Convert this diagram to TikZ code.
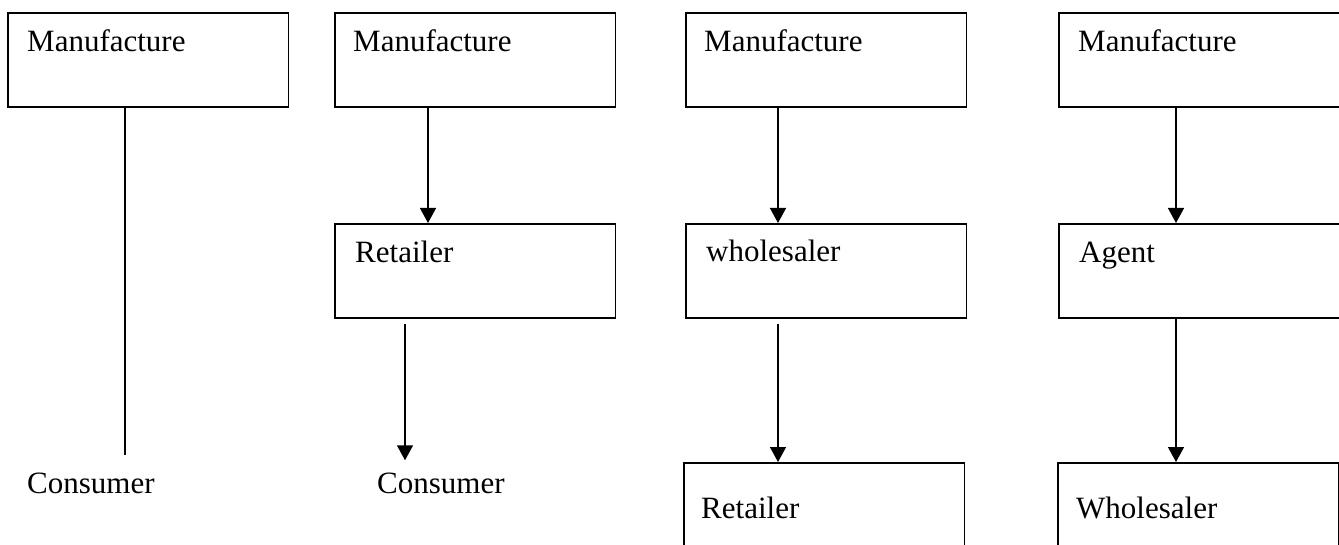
\documentclass[tikz,border=0pt]{standalone}
\usepackage{fontspec}
\setmainfont{Liberation Serif}
\usetikzlibrary{arrows.meta}
\begin{document}
\begin{tikzpicture}[x=1pt,y=-1pt,
  box/.style={draw, line width=1.7pt, minimum width=280.5pt, minimum height=94pt, inner sep=0pt, anchor=north west},
  tallbox/.style={box, minimum height=140pt},
  lbl/.style={anchor=base west, inner sep=0pt, font=\fontsize{31}{37}\selectfont},
  conn/.style={line width=1.5pt},
  arr/.style={conn, -{Triangle[width=16pt,length=15pt]}}]
\useasboundingbox (0,0) rectangle (1339,545);
\clip (0,0) rectangle (1339,545);
\fill[white] (0,0) rectangle (1339,545);

% boxes
\node[box] (m1) at (7,12) {};
\node[box] (m2) at (334,12) {};
\node[box] (m3) at (685,12) {};
\node[box] (m4) at (1058,12) {};
\node[box] (r2) at (334,223) {};
\node[box] (w3) at (685,223) {};
\node[box] (a4) at (1058,223) {};
\node[tallbox] (r3) at (683,462) {};
\node[tallbox] (wh4) at (1057,462) {};

% texts
\node[lbl] (tm1) at (27,52) {Manufacture};
\node[lbl] (tm2) at (353,52) {Manufacture};
\node[lbl] (tm3) at (704,52) {Manufacture};
\node[lbl] (tm4) at (1078,52) {Manufacture};
\node[lbl] (tr2) at (355,263) {Retailer};
\node[lbl] (tw3) at (706,262) {wholesaler};
\node[lbl] (ta4) at (1079,263) {Agent};
\node[lbl] (tr3) at (701,518) {Retailer};
\node[lbl] (twh4) at (1076,518) {Wholesaler};
\node[lbl] (c1) at (27,493) {Consumer};
\node[lbl] (c2) at (377,493) {Consumer};

% connector columns
\coordinate (x1) at (125,0);
\coordinate (x2) at (428,0);
\coordinate (x2b) at (405,0);
\coordinate (x3) at (778,0);
\coordinate (x4) at (1176,0);

\draw[conn, shorten >=17pt] (m1.south -| x1) -- (c1.north -| x1);
\draw[arr] (m2.south -| x2) -- (r2.north -| x2);
\draw[arr, shorten <=5pt, shorten >=12pt] (r2.south -| x2b) -- (c2.north -| x2b);
\draw[arr] (m3.south -| x3) -- (w3.north -| x3);
\draw[arr, shorten <=5pt] (w3.south -| x3) -- (r3.north -| x3);
\draw[arr] (m4.south -| x4) -- (a4.north -| x4);
\draw[arr] (a4.south -| x4) -- (wh4.north -| x4);
\end{tikzpicture}
\end{document}
